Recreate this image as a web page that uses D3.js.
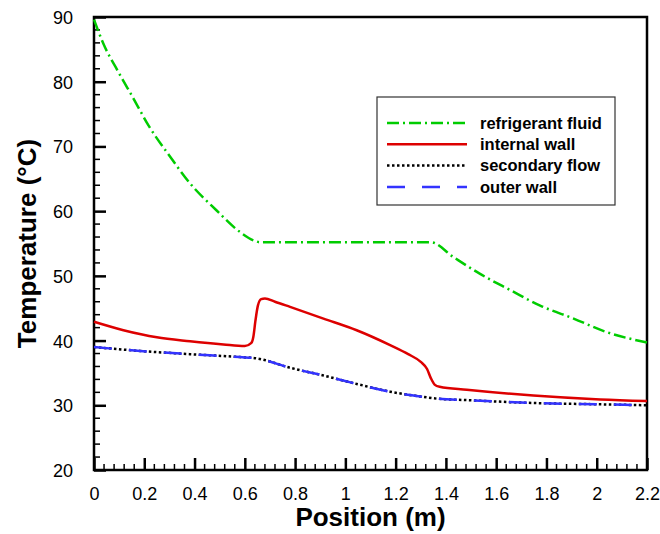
<!DOCTYPE html>
<html>
<head>
<meta charset="utf-8">
<script src="https://cdn.jsdelivr.net/npm/d3@7"></script>
<style>
  body { margin: 0; background: #fff; }
  svg { display: block; font-family: "Liberation Sans", Arial, sans-serif; }
</style>
</head>
<body>
<div id="chart"></div>
<script>
// values: [position (m), temperature (°C)]
var refrigerant = [[0, 89.6], [0.037, 85.9], [0.097, 81.5], [0.157, 77.4], [0.216, 73.3], [0.303, 68.4],
  [0.382, 64.3], [0.488, 60.1], [0.58, 56.8], [0.64, 55.4], [0.66, 55.2], [1.34, 55.2], [1.43, 52.9],
  [1.536, 50.3], [1.656, 47.8], [1.775, 45.4], [1.908, 43.4], [2.04, 41.3], [2.2, 39.7]];
var internalWall = [[0, 42.9], [0.117, 41.6], [0.25, 40.5], [0.382, 39.9], [0.515, 39.4], [0.6, 39.15],
  [0.625, 39.6], [0.634, 40.6], [0.642, 43], [0.652, 45.4], [0.665, 46.4], [0.68, 46.5], [0.72, 46.0],
  [0.78, 45.2], [0.913, 43.4], [1.045, 41.6], [1.178, 39.3], [1.25, 37.9], [1.3, 36.7], [1.325, 35.6],
  [1.34, 34.2], [1.355, 33.2], [1.375, 32.85], [1.483, 32.4], [1.748, 31.5], [2.014, 30.9], [2.2, 30.65]];
var secondaryFlow = [[0, 39.0], [0.183, 38.4], [0.382, 37.9], [0.581, 37.45], [0.647, 37.25], [0.78, 35.8],
  [0.913, 34.6], [1.045, 33.3], [1.178, 32.1], [1.31, 31.3], [1.37, 31.0], [1.483, 30.8], [1.748, 30.35],
  [2.014, 30.15], [2.2, 30.0]];
var outerWall = secondaryFlow.map(function (d) { return [d[0], d[1]]; });

var seriesNames = ["refrigerant fluid", "internal wall", "secondary flow", "outer wall"];
var xTicks = [0, 0.2, 0.4, 0.6, 0.8, 1, 1.2, 1.4, 1.6, 1.8, 2, 2.2];
var yTicks = [20, 30, 40, 50, 60, 70, 80, 90];

var margin = { top: 17, right: 13, bottom: 64, left: 94 },
  width = 660 - margin.left - margin.right,
  height = 534 - margin.top - margin.bottom;

var svg = d3.select("#chart")
.append("svg")
  .attr("width", 660)
  .attr("height", 534)
.append("g")
  .attr("transform", "translate(" + margin.left + "," + margin.top + ")");

var x = d3.scaleLinear().domain([0, 2.2]).range([0, width]);
var y = d3.scaleLinear().domain([20, 90]).range([height, 0]);

// minor ticks
var xMinor = d3.range(0, 2.2001, 0.04).filter(function (v) { return Math.abs(v * 5 - Math.round(v * 5)) > 1e-6; });
var yMinor = d3.range(20, 90.001, 2).filter(function (v) { return v % 10 !== 0; });

svg.selectAll(".xminor").data(xMinor).enter().append("line")
  .attr("x1", function (d) { return x(d); }).attr("x2", function (d) { return x(d); })
  .attr("y1", height).attr("y2", height - 6)
  .attr("stroke", "#000").attr("stroke-width", 1.5);
svg.selectAll(".yminor").data(yMinor).enter().append("line")
  .attr("y1", function (d) { return y(d); }).attr("y2", function (d) { return y(d); })
  .attr("x1", 0).attr("x2", 6)
  .attr("stroke", "#000").attr("stroke-width", 1.5);

// major ticks + labels
var xAxis = svg.append("g")
  .attr("transform", "translate(0," + height + ")")
  .call(d3.axisBottom(x).tickValues(xTicks).tickSizeInner(-12).tickSizeOuter(0).tickPadding(17)
    .tickFormat(function (d) { return d3.format("~g")(d); }));
var yAxis = svg.append("g")
  .call(d3.axisLeft(y).tickValues(yTicks).tickSizeInner(-12).tickSizeOuter(0).tickPadding(21));
[xAxis, yAxis].forEach(function (a) {
  a.select(".domain").remove();
  a.selectAll(".tick line").attr("stroke-width", 2.5);
  a.selectAll("text").attr("font-size", 18).attr("fill", "#000")
    .attr("font-family", "Liberation Sans, Arial, sans-serif");
});
yAxis.selectAll("text").attr("dy", "0.36em");

// frame
svg.append("rect")
  .attr("x", 0).attr("y", 0).attr("width", width).attr("height", height)
  .attr("fill", "none").attr("stroke", "#000").attr("stroke-width", 2.5);

var line = d3.line()
  .x(function (d) { return x(d[0]); })
  .y(function (d) { return y(d[1]); })
  .curve(d3.curveMonotoneX);

var styles = [
  { data: refrigerant, color: "#00cc00", width: 2.5, dash: "12,4,2,4" },
  { data: internalWall, color: "#dd0000", width: 2.5, dash: null },
  { data: secondaryFlow, color: "#000000", width: 2.5, dash: "2.5,2.5" },
  { data: outerWall, color: "#3333ff", width: 2.5, dash: "18,17" }
];

styles.forEach(function (s) {
  svg.append("path")
    .datum(s.data)
    .attr("fill", "none")
    .attr("stroke", s.color)
    .attr("stroke-width", s.width)
    .attr("stroke-dasharray", s.dash)
    .attr("d", line);
});

// legend
var legend = svg.append("g").attr("transform", "translate(" + (377 - margin.left) + "," + (97 - margin.top) + ")");
legend.append("rect")
  .attr("width", 238).attr("height", 108)
  .attr("fill", "#fff").attr("stroke", "#333").attr("stroke-width", 1.2);
seriesNames.forEach(function (name, i) {
  var ly = 26 + i * 21.3;
  legend.append("line")
    .attr("x1", 10).attr("x2", 90).attr("y1", ly).attr("y2", ly)
    .attr("stroke", styles[i].color).attr("stroke-width", styles[i].width)
    .attr("stroke-dasharray", styles[i].dash);
  legend.append("text")
    .attr("x", 103).attr("y", ly).attr("dy", "0.35em")
    .attr("font-size", 16.5).attr("font-weight", "bold")
    .text(name);
});

// axis titles
svg.append("text")
  .attr("x", width / 2).attr("y", height + 56)
  .attr("text-anchor", "middle")
  .attr("font-size", 26).attr("font-weight", "bold")
  .text("Position (m)");
svg.append("text")
  .attr("transform", "translate(" + (-58) + "," + (height / 2) + ") rotate(-90)")
  .attr("text-anchor", "middle")
  .attr("font-size", 26).attr("font-weight", "bold")
  .text("Temperature (°C)");
</script>
</body>
</html>
